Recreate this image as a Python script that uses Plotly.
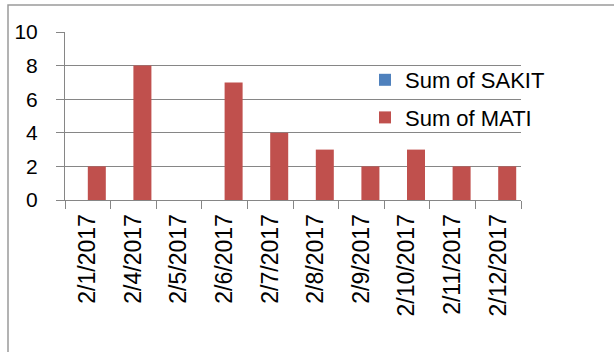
import plotly.graph_objects as go

categories = ["2/1/2017", "2/4/2017", "2/5/2017", "2/6/2017", "2/7/2017",
              "2/8/2017", "2/9/2017", "2/10/2017", "2/11/2017", "2/12/2017"]
sakit = [0, 0, 0, 0, 0, 0, 0, 0, 0, 0]
mati = [2, 8, 0, 7, 4, 3, 2, 3, 2, 2]
y_ticks = [0, 2, 4, 6, 8, 10]

W, H = 614, 352
L, R, T, B = 65, 521, 32, 200  # plot area in pixels
pw, ph = R - L, B - T

def px_x(p):
    return (p - L) / pw

def px_y(p):
    return (B - p) / ph

grey = "#868686"
font = "Liberation Sans, Arial, sans-serif"

fig = go.Figure()
fig.add_trace(go.Bar(x=categories, y=sakit, name="Sum of SAKIT",
                     marker=dict(color="#4F81BD", line=dict(width=0)),
                     legendgroup="a"))
fig.add_trace(go.Bar(x=categories, y=mati, name="Sum of MATI",
                     marker=dict(color="#C0504D", line=dict(width=0)),
                     legendgroup="b"))

fig.update_layout(
    width=W, height=H,
    margin=dict(l=L, r=W - R, t=T, b=H - B, pad=0),
    paper_bgcolor="white", plot_bgcolor="white",
    barmode="group", bargap=0.21, bargroupgap=0,
    font=dict(family=font, color="black"),
    showlegend=True,
    legend=dict(x=px_x(365), y=px_y(59), xanchor="left", yanchor="top",
                font=dict(size=22, family=font, color="black"),
                traceorder="grouped", tracegroupgap=6,
                bgcolor="rgba(0,0,0,0)", borderwidth=0),
    xaxis=dict(type="category", showgrid=False, showline=True,
               linecolor=grey, linewidth=1, ticks="outside", ticklen=8,
               tickcolor=grey, tickson="boundaries", tickangle=-90,
               tickfont=dict(size=23, family=font, color="black"),
               ticklabelstandoff=4),
    yaxis=dict(range=[0, 10], tickvals=y_ticks, showgrid=True,
               gridcolor=grey, gridwidth=1, showline=True, linecolor=grey,
               linewidth=1, ticks="outside", ticklen=8, tickcolor=grey,
               tickfont=dict(size=21, family=font, color="black"),
               ticklabelstandoff=14, zeroline=False),
    shapes=[dict(type="rect", xref="paper", yref="paper",
                 x0=px_x(8), y0=px_y(400), x1=px_x(700), y1=px_y(5),
                 line=dict(color="#9a9a9a", width=1.5), layer="below")],
)

fig.write_html("out.html")
